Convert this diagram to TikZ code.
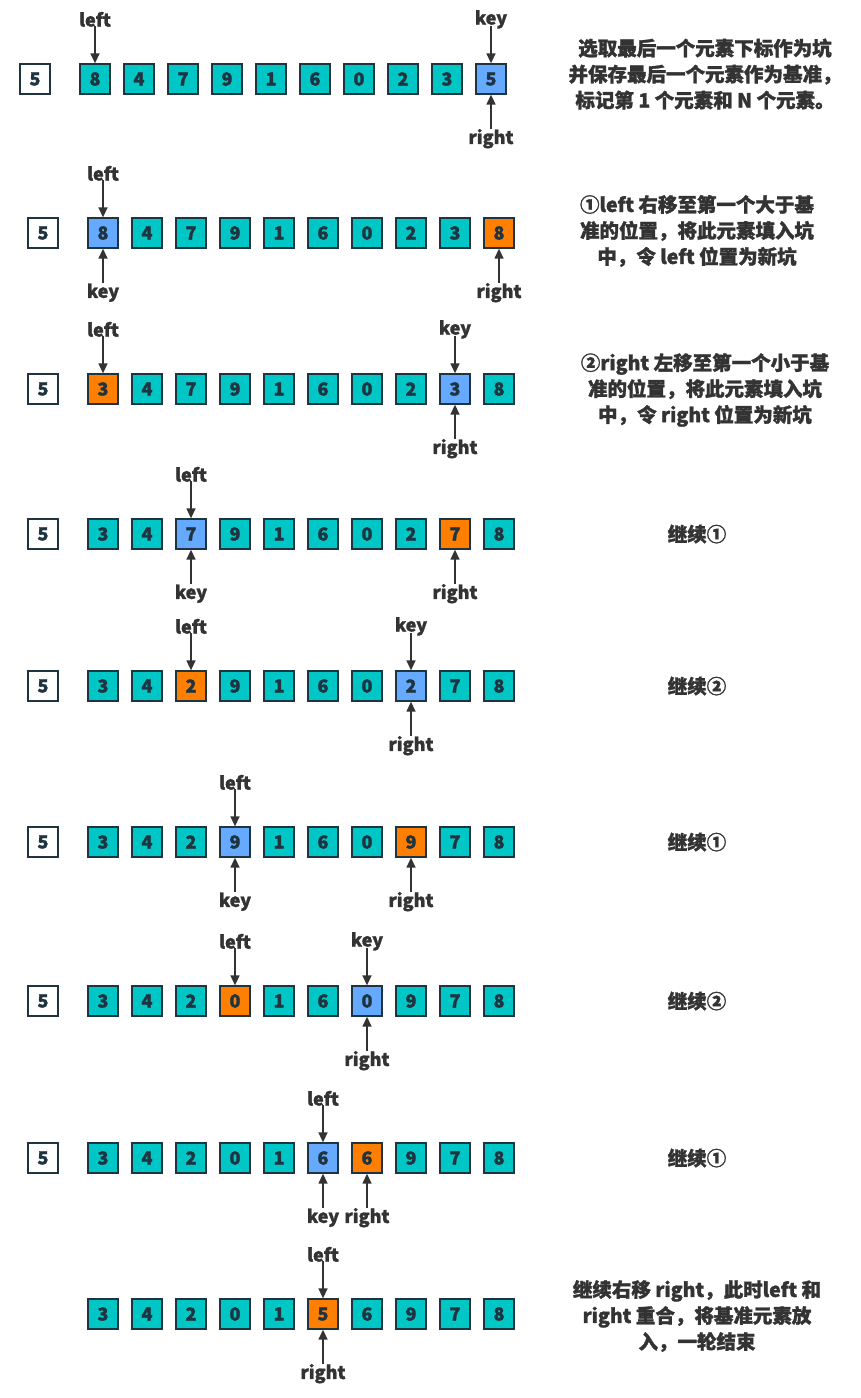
\documentclass[tikz,border=0pt]{standalone}
\usepackage{fontspec}
\setmainfont{Noto Sans CJK SC}[FakeBold=1.5]
\usetikzlibrary{arrows.meta}
\definecolor{tealc}{HTML}{00C6C6}
\definecolor{bluec}{HTML}{66AAFF}
\definecolor{orac}{HTML}{FF8000}
\definecolor{edgec}{HTML}{1E3440}
\definecolor{txt}{HTML}{333333}
\tikzset{
 cell/.style={draw=edgec,line width=1.3pt,minimum size=30pt,inner sep=0pt,font=\fontsize{18}{18}\selectfont\bfseries,text=edgec},
 t/.style={cell,fill=tealc}, b/.style={cell,fill=bluec}, o/.style={cell,fill=orac}, w/.style={cell,fill=white},
 lab/.style={font=\fontsize{18}{18}\selectfont\bfseries,text=txt,inner sep=1pt},
 arr/.style={draw=txt,line width=1.4pt,-{Triangle[length=10pt,width=9pt]}},
 desc/.style={font=\fontsize{19.5}{26}\selectfont\bfseries,text=txt,align=center}
}
\newcommand{\cellrow}[4]{% name, x0, y, list
 \foreach \s/\v [count=\i] in {#4} {
   \node[\s] (#1c\i) at ({#2+(\i-1)*44},{-#3}) {\v};
 }}
\newcommand{\up}[3]{%
 \node[lab] (#3) at ([yshift=44pt]#1.north) {#2};
 \draw[arr] ([yshift=-7pt]#3.center) -- (#1.north);}
\newcommand{\dn}[3]{%
 \node[lab] (#3) at ([yshift=-44pt]#1.south) {#2};
 \draw[arr] ([yshift=10pt]#3.center) -- (#1.south);}
\begin{document}
\begin{tikzpicture}[x=1pt,y=1pt]
\useasboundingbox (0,0) rectangle (860,-1398);
% row 1
\node[w] (base1) at (35,-79) {5};
\cellrow{a}{95}{79}{t/8,t/4,t/7,t/9,t/1,t/6,t/0,t/2,t/3,b/5}
\up{ac1}{left}{aL}\up{ac10}{key}{aK}\dn{ac10}{right}{aR}
\node[desc] (d1) at (705,-74) {选取最后一个元素下标作为坑\\并保存最后一个元素作为基准，\\标记第 1 个元素和 N 个元素。};
% row 2
\node[w] (base2) at (43,-233) {5};
\cellrow{b}{103}{233}{b/8,t/4,t/7,t/9,t/1,t/6,t/0,t/2,t/3,o/8}
\up{bc1}{left}{bL}\dn{bc1}{key}{bK}\dn{bc10}{right}{bR}
\node[desc] (d2) at (697,-231) {①left 右移至第一个大于基\\准的位置，将此元素填入坑\\中，令 left 位置为新坑};
% row 3
\node[w] (base3) at (43,-389) {5};
\cellrow{c}{103}{389}{o/3,t/4,t/7,t/9,t/1,t/6,t/0,t/2,b/3,t/8}
\up{cc1}{left}{cL}\up{cc9}{key}{cK}\dn{cc9}{right}{cR}
\node[desc] (d3) at (705,-390) {②right 左移至第一个小于基\\准的位置，将此元素填入坑\\中，令 right 位置为新坑};
% row 4
\node[w] (base4) at (43,-534) {5};
\cellrow{e}{103}{534}{t/3,t/4,b/7,t/9,t/1,t/6,t/0,t/2,o/7,t/8}
\up{ec3}{left}{eL}\dn{ec3}{key}{eK}\dn{ec9}{right}{eR}
\node[desc] (d4) at (697,-534) {继续①};
% row 5
\node[w] (base5) at (43,-686) {5};
\cellrow{f}{103}{686}{t/3,t/4,o/2,t/9,t/1,t/6,t/0,b/2,t/7,t/8}
\up{fc3}{left}{fL}\up{fc8}{key}{fK}\dn{fc8}{right}{fR}
\node[desc] (d5) at (697,-686) {继续②};
% row 6
\node[w] (base6) at (43,-842) {5};
\cellrow{g}{103}{842}{t/3,t/4,t/2,b/9,t/1,t/6,t/0,o/9,t/7,t/8}
\up{gc4}{left}{gL}\dn{gc4}{key}{gK}\dn{gc8}{right}{gR}
\node[desc] (d6) at (697,-842) {继续①};
% row 7
\node[w] (base7) at (43,-1001) {5};
\cellrow{h}{103}{1001}{t/3,t/4,t/2,o/0,t/1,t/6,b/0,t/9,t/7,t/8}
\up{hc4}{left}{hL}\up{hc7}{key}{hK}\dn{hc7}{right}{hR}
\node[desc] (d7) at (697,-1001) {继续②};
% row 8
\node[w] (base8) at (43,-1158) {5};
\cellrow{k}{103}{1158}{t/3,t/4,t/2,t/0,t/1,b/6,o/6,t/9,t/7,t/8}
\up{kc6}{left}{kL}\dn{kc6}{key}{kK}\dn{kc7}{right}{kR}
\node[desc] (d8) at (697,-1158) {继续①};
% row 9
\cellrow{m}{103}{1314}{t/3,t/4,t/2,t/0,t/1,o/5,t/6,t/9,t/7,t/8}
\up{mc6}{left}{mL}\dn{mc6}{right}{mR}
\node[desc] (d9) at (697,-1316) {继续右移 right，此时left 和\\right 重合，将基准元素放\\入，一轮结束};
\end{tikzpicture}
\end{document}
